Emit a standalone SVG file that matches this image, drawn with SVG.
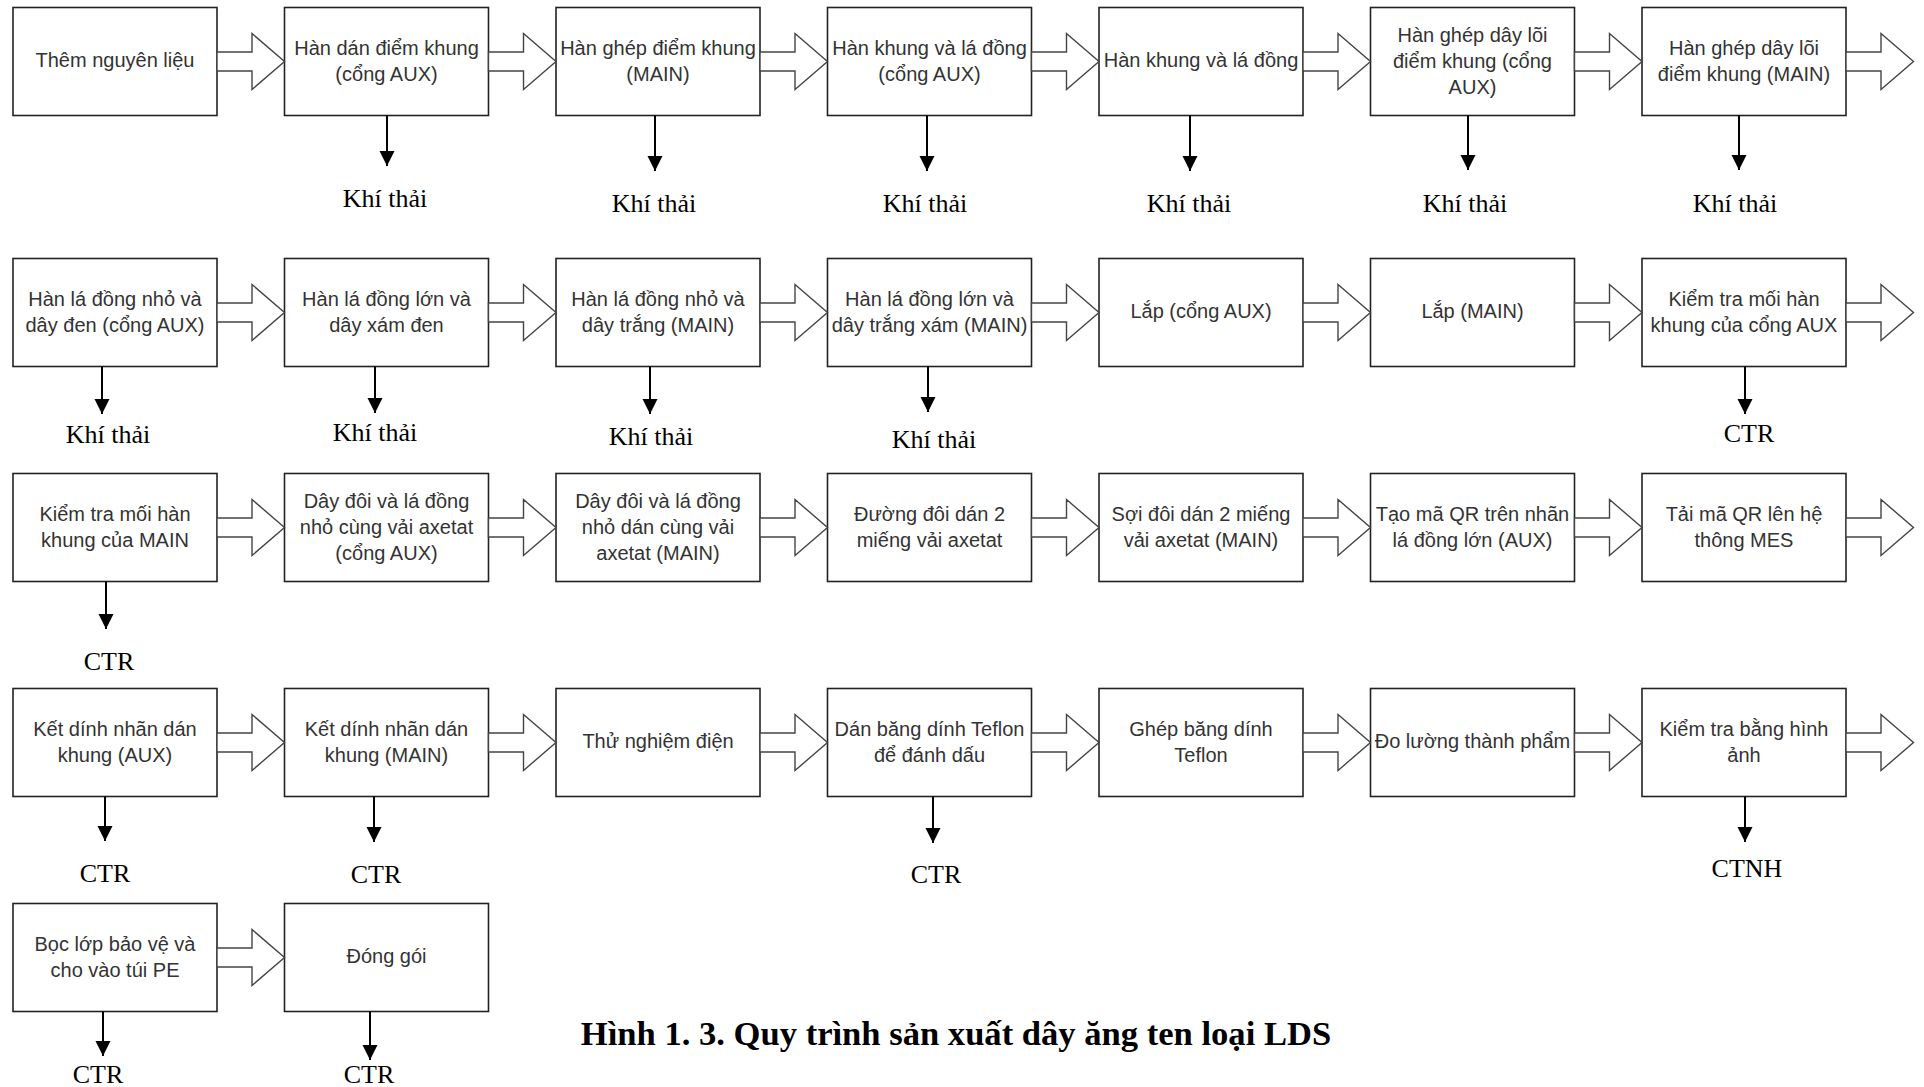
<svg xmlns="http://www.w3.org/2000/svg" xmlns:xlink="http://www.w3.org/1999/xlink" width="1924" height="1087" viewBox="0 0 1924 1087">
<style>
.box{fill:#fff;stroke:#222;stroke-width:1.6}
.t{font-family:"Liberation Sans",Arial,sans-serif;font-size:20px;fill:#333;text-anchor:middle}
.fa{fill:#fff;stroke:#444;stroke-width:1.4;stroke-linejoin:miter}
.dn{stroke:#000;stroke-width:2;fill:none;marker-end:url(#ah)}
.lb{font-family:"Liberation Serif","Times New Roman",serif;font-size:26px;fill:#000;text-anchor:middle}
.cap{font-family:"Liberation Serif","Times New Roman",serif;font-size:34.6px;font-weight:bold;fill:#000;text-anchor:middle}
</style>
<defs>
<path id="fa" class="fa" d="M0,-9.5 H35 V-28 L67.5,0 L35,28 V9.5 H0 Z"/>
<marker id="ah" markerUnits="userSpaceOnUse" markerWidth="16" markerHeight="16" refX="15" refY="7.5" orient="auto"><path d="M0,0 L15,7.5 L0,15 Z" fill="#000"/></marker>
</defs>
<rect width="1924" height="1087" fill="#fff"/>

<!-- Row 1 -->
<g id="n1"><rect class="box" x="13" y="7.5" width="204" height="108"/><text class="t" x="115" y="66.5">Thêm nguyên liệu</text></g>
<g id="n2"><rect class="box" x="284.5" y="7.5" width="204" height="108"/><text class="t"><tspan x="386.5" y="54.5">Hàn dán điểm khung</tspan><tspan x="386.5" y="80.5">(cổng AUX)</tspan></text></g>
<g id="n3"><rect class="box" x="556" y="7.5" width="204" height="108"/><text class="t"><tspan x="658" y="54.5">Hàn ghép điểm khung</tspan><tspan x="658" y="80.5">(MAIN)</tspan></text></g>
<g id="n4"><rect class="box" x="827.5" y="7.5" width="204" height="108"/><text class="t"><tspan x="929.5" y="54.5">Hàn khung và lá đồng</tspan><tspan x="929.5" y="80.5">(cổng AUX)</tspan></text></g>
<g id="n5"><rect class="box" x="1099" y="7.5" width="204" height="108"/><text class="t" x="1201" y="66.5">Hàn khung và lá đồng</text></g>
<g id="n6"><rect class="box" x="1370.5" y="7.5" width="204" height="108"/><text class="t"><tspan x="1472.5" y="41.5">Hàn ghép dây lõi</tspan><tspan x="1472.5" y="67.5">điểm khung (cổng</tspan><tspan x="1472.5" y="93.5">AUX)</tspan></text></g>
<g id="n7"><rect class="box" x="1642" y="7.5" width="204" height="108"/><text class="t"><tspan x="1744" y="54.5">Hàn ghép dây lõi</tspan><tspan x="1744" y="80.5">điểm khung (MAIN)</tspan></text></g>

<!-- Row 2 -->
<g id="n8"><rect class="box" x="13" y="258.5" width="204" height="108"/><text class="t"><tspan x="115" y="305.5">Hàn lá đồng nhỏ và</tspan><tspan x="115" y="331.5">dây đen (cổng AUX)</tspan></text></g>
<g id="n9"><rect class="box" x="284.5" y="258.5" width="204" height="108"/><text class="t"><tspan x="386.5" y="305.5">Hàn lá đồng lớn và</tspan><tspan x="386.5" y="331.5">dây xám đen</tspan></text></g>
<g id="n10"><rect class="box" x="556" y="258.5" width="204" height="108"/><text class="t"><tspan x="658" y="305.5">Hàn lá đồng nhỏ và</tspan><tspan x="658" y="331.5">dây trắng (MAIN)</tspan></text></g>
<g id="n11"><rect class="box" x="827.5" y="258.5" width="204" height="108"/><text class="t"><tspan x="929.5" y="305.5">Hàn lá đồng lớn và</tspan><tspan x="929.5" y="331.5">dây trắng xám (MAIN)</tspan></text></g>
<g id="n12"><rect class="box" x="1099" y="258.5" width="204" height="108"/><text class="t" x="1201" y="317.5">Lắp (cổng AUX)</text></g>
<g id="n13"><rect class="box" x="1370.5" y="258.5" width="204" height="108"/><text class="t" x="1472.5" y="317.5">Lắp (MAIN)</text></g>
<g id="n14"><rect class="box" x="1642" y="258.5" width="204" height="108"/><text class="t"><tspan x="1744" y="305.5">Kiểm tra mối hàn</tspan><tspan x="1744" y="331.5">khung của cổng AUX</tspan></text></g>

<!-- Row 3 -->
<g id="n15"><rect class="box" x="13" y="473.5" width="204" height="108"/><text class="t"><tspan x="115" y="520.5">Kiểm tra mối hàn</tspan><tspan x="115" y="546.5">khung của MAIN</tspan></text></g>
<g id="n16"><rect class="box" x="284.5" y="473.5" width="204" height="108"/><text class="t"><tspan x="386.5" y="507.5">Dây đôi và lá đồng</tspan><tspan x="386.5" y="533.5">nhỏ cùng vải axetat</tspan><tspan x="386.5" y="559.5">(cổng AUX)</tspan></text></g>
<g id="n17"><rect class="box" x="556" y="473.5" width="204" height="108"/><text class="t"><tspan x="658" y="507.5">Dây đôi và lá đồng</tspan><tspan x="658" y="533.5">nhỏ dán cùng vải</tspan><tspan x="658" y="559.5">axetat (MAIN)</tspan></text></g>
<g id="n18"><rect class="box" x="827.5" y="473.5" width="204" height="108"/><text class="t"><tspan x="929.5" y="520.5">Đường đôi dán 2</tspan><tspan x="929.5" y="546.5">miếng vải axetat</tspan></text></g>
<g id="n19"><rect class="box" x="1099" y="473.5" width="204" height="108"/><text class="t"><tspan x="1201" y="520.5">Sợi đôi dán 2 miếng</tspan><tspan x="1201" y="546.5">vải axetat (MAIN)</tspan></text></g>
<g id="n20"><rect class="box" x="1370.5" y="473.5" width="204" height="108"/><text class="t"><tspan x="1472.5" y="520.5">Tạo mã QR trên nhãn</tspan><tspan x="1472.5" y="546.5">lá đồng lớn (AUX)</tspan></text></g>
<g id="n21"><rect class="box" x="1642" y="473.5" width="204" height="108"/><text class="t"><tspan x="1744" y="520.5">Tải mã QR lên hệ</tspan><tspan x="1744" y="546.5">thông MES</tspan></text></g>

<!-- Row 4 -->
<g id="n22"><rect class="box" x="13" y="688.5" width="204" height="108"/><text class="t"><tspan x="115" y="735.5">Kết dính nhãn dán</tspan><tspan x="115" y="761.5">khung (AUX)</tspan></text></g>
<g id="n23"><rect class="box" x="284.5" y="688.5" width="204" height="108"/><text class="t"><tspan x="386.5" y="735.5">Kết dính nhãn dán</tspan><tspan x="386.5" y="761.5">khung (MAIN)</tspan></text></g>
<g id="n24"><rect class="box" x="556" y="688.5" width="204" height="108"/><text class="t" x="658" y="747.5">Thử nghiệm điện</text></g>
<g id="n25"><rect class="box" x="827.5" y="688.5" width="204" height="108"/><text class="t"><tspan x="929.5" y="735.5">Dán băng dính Teflon</tspan><tspan x="929.5" y="761.5">để đánh dấu</tspan></text></g>
<g id="n26"><rect class="box" x="1099" y="688.5" width="204" height="108"/><text class="t"><tspan x="1201" y="735.5">Ghép băng dính</tspan><tspan x="1201" y="761.5">Teflon</tspan></text></g>
<g id="n27"><rect class="box" x="1370.5" y="688.5" width="204" height="108"/><text class="t" x="1472.5" y="747.5">Đo lường thành phẩm</text></g>
<g id="n28"><rect class="box" x="1642" y="688.5" width="204" height="108"/><text class="t"><tspan x="1744" y="735.5">Kiểm tra bằng hình</tspan><tspan x="1744" y="761.5">ảnh</tspan></text></g>

<!-- Row 5 -->
<g id="n29"><rect class="box" x="13" y="903.5" width="204" height="108"/><text class="t"><tspan x="115" y="950.5">Bọc lớp bảo vệ và</tspan><tspan x="115" y="976.5">cho vào túi PE</tspan></text></g>
<g id="n30"><rect class="box" x="284.5" y="903.5" width="204" height="108"/><text class="t" x="386.5" y="962.5">Đóng gói</text></g>

<!-- Connectors -->
<g id="connectors">
<use href="#fa" x="217" y="61.5"/><use href="#fa" x="488.5" y="61.5"/><use href="#fa" x="760" y="61.5"/><use href="#fa" x="1031.5" y="61.5"/><use href="#fa" x="1303" y="61.5"/><use href="#fa" x="1574.5" y="61.5"/><use href="#fa" x="1846" y="61.5"/>
<use href="#fa" x="217" y="312.5"/><use href="#fa" x="488.5" y="312.5"/><use href="#fa" x="760" y="312.5"/><use href="#fa" x="1031.5" y="312.5"/><use href="#fa" x="1303" y="312.5"/><use href="#fa" x="1574.5" y="312.5"/><use href="#fa" x="1846" y="312.5"/>
<use href="#fa" x="217" y="527.5"/><use href="#fa" x="488.5" y="527.5"/><use href="#fa" x="760" y="527.5"/><use href="#fa" x="1031.5" y="527.5"/><use href="#fa" x="1303" y="527.5"/><use href="#fa" x="1574.5" y="527.5"/><use href="#fa" x="1846" y="527.5"/>
<use href="#fa" x="217" y="742.5"/><use href="#fa" x="488.5" y="742.5"/><use href="#fa" x="760" y="742.5"/><use href="#fa" x="1031.5" y="742.5"/><use href="#fa" x="1303" y="742.5"/><use href="#fa" x="1574.5" y="742.5"/><use href="#fa" x="1846" y="742.5"/>
<use href="#fa" x="217" y="957.5"/>

<line class="dn" x1="387" y1="115.5" x2="387" y2="166"/>
<line class="dn" x1="655" y1="115.5" x2="655" y2="171"/>
<line class="dn" x1="927" y1="115.5" x2="927" y2="171"/>
<line class="dn" x1="1190" y1="115.5" x2="1190" y2="171"/>
<line class="dn" x1="1468" y1="115.5" x2="1468" y2="170"/>
<line class="dn" x1="1739" y1="115.5" x2="1739" y2="170"/>

<line class="dn" x1="102" y1="366.5" x2="102" y2="414"/>
<line class="dn" x1="375" y1="366.5" x2="375" y2="413"/>
<line class="dn" x1="650" y1="366.5" x2="650" y2="414"/>
<line class="dn" x1="928" y1="366.5" x2="928" y2="412"/>
<line class="dn" x1="1745" y1="366.5" x2="1745" y2="414"/>

<line class="dn" x1="106" y1="581.5" x2="106" y2="629"/>

<line class="dn" x1="105" y1="796.5" x2="105" y2="841"/>
<line class="dn" x1="374" y1="796.5" x2="374" y2="842"/>
<line class="dn" x1="933" y1="796.5" x2="933" y2="843"/>
<line class="dn" x1="1745" y1="796.5" x2="1745" y2="842"/>

<line class="dn" x1="103" y1="1011.5" x2="103" y2="1056"/>
<line class="dn" x1="370" y1="1011.5" x2="370" y2="1060"/>
</g>

<!-- Output labels -->
<g id="labels">
<text class="lb" x="385" y="207">Khí thải</text>
<text class="lb" x="654" y="212">Khí thải</text>
<text class="lb" x="925" y="212">Khí thải</text>
<text class="lb" x="1189" y="212">Khí thải</text>
<text class="lb" x="1465" y="212">Khí thải</text>
<text class="lb" x="1735" y="212">Khí thải</text>

<text class="lb" x="108" y="443">Khí thải</text>
<text class="lb" x="375" y="441">Khí thải</text>
<text class="lb" x="651" y="445">Khí thải</text>
<text class="lb" x="934" y="448">Khí thải</text>
<text class="lb" x="1749" y="442">CTR</text>

<text class="lb" x="109" y="670">CTR</text>

<text class="lb" x="105" y="882">CTR</text>
<text class="lb" x="376" y="883">CTR</text>
<text class="lb" x="936" y="883">CTR</text>
<text class="lb" x="1747" y="877">CTNH</text>

<text class="lb" x="98" y="1083">CTR</text>
<text class="lb" x="369" y="1083">CTR</text>
</g>

<text id="caption" class="cap" x="956" y="1045">Hình 1. 3. Quy trình sản xuất dây ăng ten loại LDS</text>
</svg>
